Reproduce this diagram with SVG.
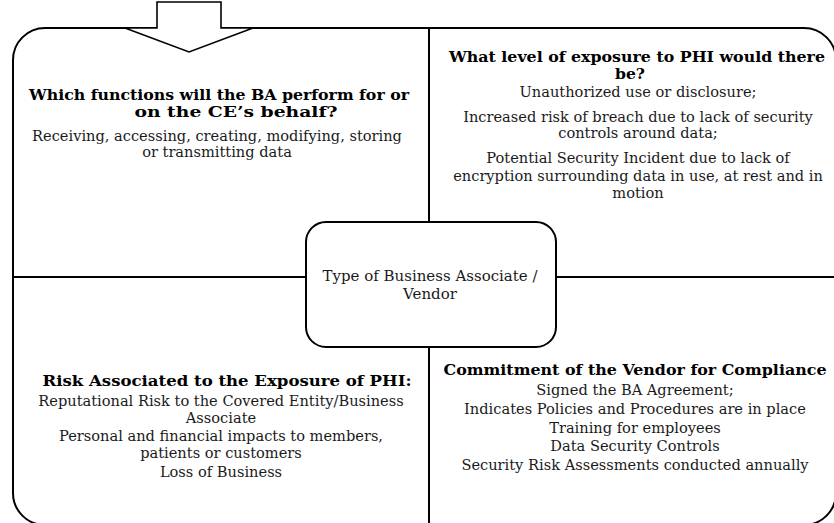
<svg xmlns="http://www.w3.org/2000/svg" width="834" height="523" viewBox="0 0 834 523">
<style>
.ln{fill:none;stroke:#000;stroke-width:2}
.t{font-family:"DejaVu Serif","Liberation Serif",serif;font-size:14.6px;fill:#1a1a1a;text-anchor:middle}
.b{font-family:"DejaVu Serif","Liberation Serif",serif;font-size:14.4px;font-weight:bold;fill:#000;text-anchor:middle}
.c{font-size:15px}
</style>
<rect width="834" height="523" fill="#fff"/>
<g id="frame">
<rect class="ln" x="13" y="28" width="823" height="497" rx="32" ry="32"/>
</g>
<g id="connectors">
<line class="ln" x1="429" y1="28" x2="429" y2="222"/>
<line class="ln" x1="429" y1="347" x2="429" y2="525"/>
<line class="ln" x1="13" y1="277" x2="306" y2="277"/>
<line class="ln" x1="556" y1="277" x2="836" y2="277"/>
</g>
<g id="arrow">
<polygon points="157,2 221,2 221,28 253,28 189,52 125,28 157,28" fill="#fff" stroke="#000" stroke-width="1.6"/>
</g>
<g id="functions">
<text class="b" x="219" y="100" textLength="380" lengthAdjust="spacingAndGlyphs">Which functions will the BA perform for or</text>
<text class="b" x="236" y="117" textLength="203" lengthAdjust="spacingAndGlyphs">on the CE’s behalf?</text>
<text class="t" x="217" y="141">Receiving, accessing, creating, modifying, storing</text>
<text class="t" x="217" y="157">or transmitting data</text>
</g>
<g id="exposure">
<text class="b" x="637" y="62" textLength="376" lengthAdjust="spacingAndGlyphs">What level of exposure to PHI would there</text>
<text class="b" x="630" y="79" textLength="30" lengthAdjust="spacingAndGlyphs">be?</text>
<text class="t" x="638" y="97">Unauthorized use or disclosure;</text>
<text class="t" x="638" y="122">Increased risk of breach due to lack of security</text>
<text class="t" x="638" y="138">controls around data;</text>
<text class="t" x="638" y="163">Potential Security Incident due to lack of</text>
<text class="t" x="638" y="180.5">encryption surrounding data in use, at rest and in</text>
<text class="t" x="638" y="198">motion</text>
</g>
<g id="center">
<rect class="ln" x="306" y="222" width="250" height="125" rx="20" ry="20" fill="#fff"/>
<text class="t c" x="430" y="281">Type of Business Associate /</text>
<text class="t c" x="430" y="299">Vendor</text>
</g>
<g id="risk">
<text class="b" x="227" y="386" textLength="369" lengthAdjust="spacingAndGlyphs">Risk Associated to the Exposure of PHI:</text>
<text class="t" x="221" y="406">Reputational Risk to the Covered Entity/Business</text>
<text class="t" x="221" y="423">Associate</text>
<text class="t" x="221" y="441">Personal and financial impacts to members,</text>
<text class="t" x="221" y="458">patients or customers</text>
<text class="t" x="221" y="477">Loss of Business</text>
</g>
<g id="commitment">
<text class="b" x="635" y="375" textLength="383" lengthAdjust="spacingAndGlyphs">Commitment of the Vendor for Compliance</text>
<text class="t" x="635" y="395">Signed the BA Agreement;</text>
<text class="t" x="635" y="414">Indicates Policies and Procedures are in place</text>
<text class="t" x="635" y="433">Training for employees</text>
<text class="t" x="635" y="451">Data Security Controls</text>
<text class="t" x="635" y="470">Security Risk Assessments conducted annually</text>
</g>
</svg>
